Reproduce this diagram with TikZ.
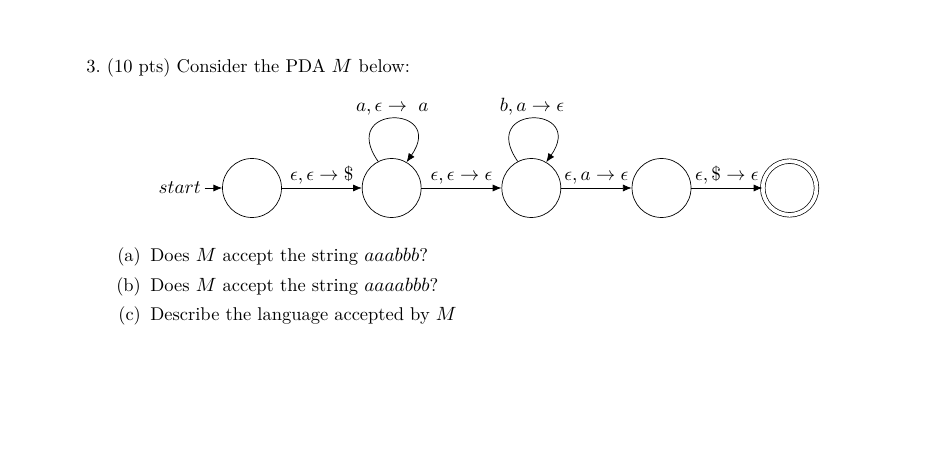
\documentclass[tikz,border=0pt]{standalone}
\usetikzlibrary{arrows.meta,positioning}
\begin{document}
\begin{tikzpicture}[x=0.5714pt,y=0.5714pt,>={Latex[length=5pt,width=4pt]},
 font=\fontsize{10.55pt}{12.7pt}\selectfont,
 pdastate/.style={circle,draw,minimum size=33.7pt,inner sep=0pt},
 finalstate/.style={pdastate,double,double distance=2.2pt,minimum size=30.7pt},
 tlabel/.style={above,inner sep=2pt},
 selfloop/.style={out=125,in=55,looseness=6.3},
 qtext/.style={anchor=base west,inner sep=0pt},
 qlbl/.style={anchor=base east,inner sep=0pt}]
\useasboundingbox (0,0) rectangle (940,-473);
\node[anchor=base west,inner sep=0pt] (title) at (86,-73) {3.\ (10 pts) Consider the PDA $M$ below:};
% the PDA
\node[pdastate] (q0) at (252,-188) {};
\node[pdastate,right=45.7pt of q0] (q1) {};
\node[pdastate,right=45.7pt of q1] (q2) {};
\node[pdastate,right=40.3pt of q2] (q3) {};
\node[finalstate,right=40.6pt of q3] (q4) {};
\node[left=10pt of q0,inner sep=2pt] (start) {$start$};
\draw[->] (start) -- (q0);
\draw[->] (q0) -- node[tlabel] {$\epsilon, \epsilon \rightarrow \$$} (q1);
\draw[->] (q1.117) to[selfloop] node[above,inner sep=2pt] {$a, \epsilon \rightarrow\ a$} (q1.60);
\draw[->] (q1) -- node[tlabel] {$\epsilon, \epsilon \rightarrow \epsilon$} (q2);
\draw[->] (q2.117) to[selfloop] node[above,inner sep=2pt] {$b, a \rightarrow \epsilon$} (q2.60);
\draw[->] (q2) -- node[tlabel] {$\epsilon, a \rightarrow \epsilon$} (q3);
\draw[->] (q3) -- node[tlabel] {$\epsilon, \$ \rightarrow \epsilon$} (q4);
% the questions
\node[qtext] (qa) at (150,-262) {Does $M$ accept the string $aaabbb$?};
\node[qtext] (qb) at (150,-292) {Does $M$ accept the string $aaaabbb$?};
\node[qtext] (qc) at (150,-321) {Describe the language accepted by $M$};
\node[qlbl] (la) at ([xshift=-5pt]qa.base west) {(a)};
\node[qlbl] (lb) at ([xshift=-5pt]qb.base west) {(b)};
\node[qlbl] (lc) at ([xshift=-5pt]qc.base west) {(c)};
\end{tikzpicture}
\end{document}
